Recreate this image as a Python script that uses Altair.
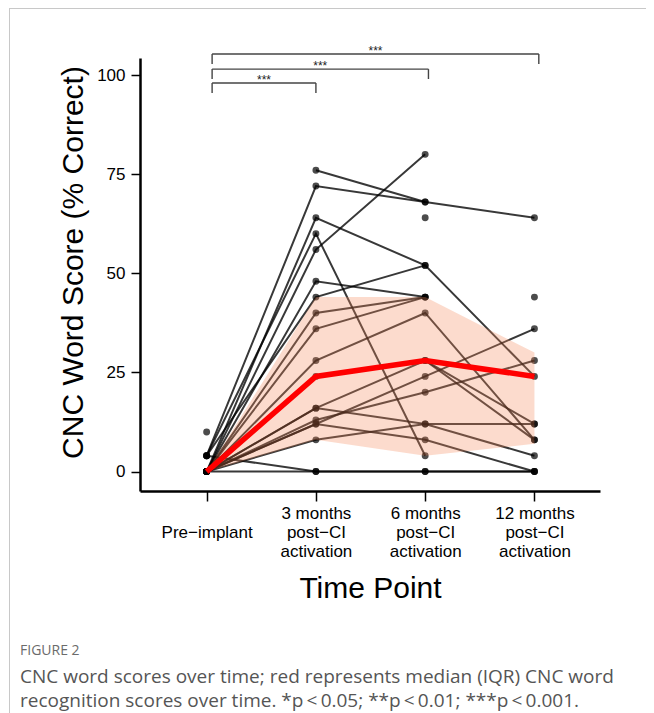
import json
import numpy as np
import pandas as pd
import altair as alt

nan = np.nan

# ---------------- data ----------------
time_points = [0, 1, 2, 3]
time_label_lines = [
    [" ", "Pre\u2212implant"],
    ["3 months", "post\u2212CI", "activation"],
    ["6 months", "post\u2212CI", "activation"],
    ["12 months", "post\u2212CI", "activation"],
]

subjects = ["A", "B", "C", "D", "E", "F", "G", "H", "I", "J", "K",
            "L", "M", "N", "O", "P", "Q", "R", "U", "S", "V", "T"]
pre = [nan, 4, 0, 4, 0, 4, 0, 0, 0, 0, 0, 0, 0, 0, 0, 0, 0, 0, 4, 10, nan, nan]
m3 = [76, 72, 64, 44, 56, 60, 48, 40, 36, 28, 24, 16, 12, 13, 16, 8, 12, 0, 0, nan, nan, nan]
m6 = [68, 68, 52, 52, 80, 4, 44, 44, 44, 40, 28, 28, 24, 20, 12, 12, 8, 0, 0, nan, 64, nan]
m12 = [nan, 64, 24, nan, nan, nan, nan, nan, nan, 8, 8, 12, 36, 28, 12, 4, 0, 0, 0, nan, nan, 44]

median_score = [0, 24, 28, 24]
iqr_low = [0, 8, 4, 7]
iqr_high = [0, 44, 44, 30]

bracket_start = 0.05
bracket_end = [1.0, 2.03, 3.04]
bracket_level = [98.0, 101.5, 105.3]
bracket_label = ["***", "***", "***"]

caption_head = "FIGURE 2"
caption_lines = [
    "CNC word scores over time; red represents median (IQR) CNC word",
    "recognition scores over time. *p\u2009<\u20090.05; **p\u2009<\u20090.01; ***p\u2009<\u20090.001.",
]

# ---------------- tables ----------------
rows = []
for s, a, b, c, d in zip(subjects, pre, m3, m6, m12):
    for t, v in zip(time_points, [a, b, c, d]):
        if not np.isnan(v):
            rows.append({"subject": s, "t": t, "score": v})
scores = pd.DataFrame(rows)

summary = pd.DataFrame({"t": time_points, "median": median_score,
                        "lo": iqr_low, "hi": iqr_high})

brackets = pd.DataFrame({
    "x0": [bracket_start] * 3, "x1": bracket_end, "lvl": bracket_level,
    "lab": bracket_label,
})
brackets["mid"] = (brackets["x0"] + brackets["x1"]) / 2
brackets["tip"] = brackets["lvl"] - 2.5
bracket_ticks = pd.concat([
    pd.DataFrame({"x": brackets["x0"], "y": brackets["lvl"], "y2": brackets["tip"]}),
    pd.DataFrame({"x": brackets["x1"], "y": brackets["lvl"], "y2": brackets["tip"]}),
])

# ---------------- scales / axes ----------------
FONT = "Liberation Sans"
xs = alt.Scale(domain=[-0.61, 3.6], nice=False, zero=False)
ys = alt.Scale(domain=[-4.9, 104.3], nice=False, zero=False)

x_axis = alt.Axis(
    values=time_points, title="Time Point", grid=False,
    labelExpr=json.dumps(time_label_lines) + "[datum.value]",
    labelFont=FONT, labelFontSize=17, labelColor="black", labelLineHeight=19,
    labelBaseline="middle", labelPadding=12, labelAngle=0,
    tickSize=10, tickWidth=1.5, tickColor="black",
    domainColor="black", domainWidth=2.5,
    titleFont=FONT, titleFontSize=30, titleFontWeight="normal",
    titleColor="black", titlePadding=14,
)
y_axis = alt.Axis(
    values=[0, 25, 50, 75, 100], title="CNC Word Score (% Correct)", grid=False,
    labelFont=FONT, labelFontSize=17, labelColor="black", labelPadding=6,
    tickSize=9, tickWidth=1.5, tickColor="black",
    domainColor="black", domainWidth=2.5,
    titleFont=FONT, titleFontSize=30, titleFontWeight="normal",
    titleColor="black", titlePadding=8, titleY=204,
)

X = alt.X("t:Q", scale=xs, axis=x_axis)
Y = alt.Y("score:Q", scale=ys, axis=y_axis)

lines = alt.Chart(scores).mark_line(color="black", opacity=0.78, strokeWidth=2).encode(
    x=X, y=Y, detail="subject:N", order="t:Q")
points = alt.Chart(scores).mark_circle(color="black", opacity=0.7, size=48).encode(
    x=alt.X("t:Q", scale=xs), y=alt.Y("score:Q", scale=ys))
band = alt.Chart(summary).mark_area(color="#f4875a", opacity=0.3).encode(
    x=alt.X("t:Q", scale=xs), y=alt.Y("lo:Q", scale=ys), y2="hi:Q")
median = alt.Chart(summary).mark_line(color="#ff0000", strokeWidth=5.5).encode(
    x=alt.X("t:Q", scale=xs), y=alt.Y("median:Q", scale=ys))

br_h = alt.Chart(brackets).mark_rule(color="#444444", strokeWidth=1.4).encode(
    x=alt.X("x0:Q", scale=xs), x2="x1:Q", y=alt.Y("lvl:Q", scale=ys))
br_v = alt.Chart(bracket_ticks).mark_rule(color="#444444", strokeWidth=1.4).encode(
    x=alt.X("x:Q", scale=xs), y=alt.Y("y:Q", scale=ys), y2="y2:Q")
br_t = alt.Chart(brackets).mark_text(font=FONT, fontSize=12, color="#222222",
                                     baseline="alphabetic", dy=1).encode(
    x=alt.X("mid:Q", scale=xs), y=alt.Y("lvl:Q", scale=ys), text="lab:N")

# caption + frame (page coordinates relative to the plot origin at page (140, 58))
one = alt.Data(values=[{"k": 1}])
fig_head = alt.Chart(one).mark_text(
    text=caption_head, align="left", baseline="middle", font="Open Sans",
    fontSize=14, color="#6b6b6b").encode(x=alt.value(20 - 140), y=alt.value(651 - 58))
fig_cap = alt.Chart(one).mark_text(
    text=caption_lines, align="left", baseline="middle", font="Open Sans",
    fontSize=19, lineHeight=24, color="#555555").encode(
    x=alt.value(20 - 140), y=alt.value(677 - 58))
frame_v = alt.Chart(one).mark_rule(color="#c8c8c8", strokeWidth=1).encode(
    x=alt.value(9.5 - 140), y=alt.value(-58), y2=alt.value(713 - 58))
frame_h = alt.Chart(one).mark_rule(color="#c8c8c8", strokeWidth=1).encode(
    x=alt.value(9 - 140), x2=alt.value(654 - 140), y=alt.value(8.5 - 58))

chart = alt.layer(
    lines, points, band, median, br_h, br_v, br_t,
    fig_head, fig_cap, frame_v, frame_h,
).properties(
    width=460, height=433,
    padding={"left": 132, "top": 50, "right": 46, "bottom": 222},
    autosize=alt.AutoSizeParams(type="none"),
    background="white",
).configure_view(strokeWidth=0)

chart.save("out.html", embed_options={"renderer": "svg", "actions": False})
